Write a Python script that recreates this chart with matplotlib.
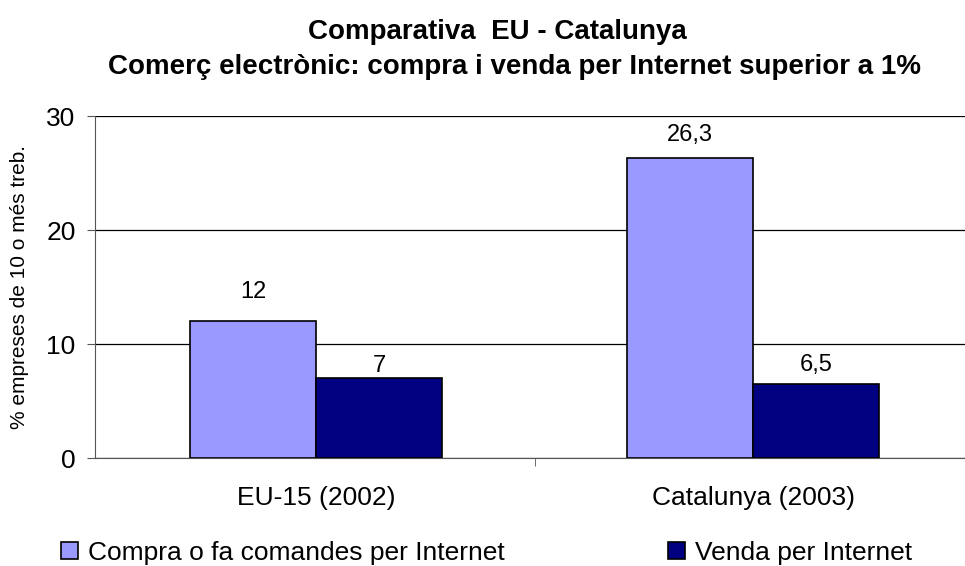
import numpy as np
import matplotlib.pyplot as plt

plt.rcParams['font.family'] = ['Liberation Sans', 'DejaVu Sans']

# dades
categories = ['EU-15 (2002)', 'Catalunya (2003)']
compra = [12, 26.3]
venda = [7, 6.5]
series_names = ['Compra o fa comandes per Internet', 'Venda per Internet']
yticks = [0, 10, 20, 30]

fig = plt.figure(figsize=(9.65, 5.66), dpi=100)
ax = fig.add_axes([95/965, 1 - 458/566, 870/965, 342/566])

x = np.arange(len(categories))
w = 0.288
b1 = ax.bar(x - w/2, compra, w, color='#9999ff', edgecolor='black', linewidth=1.2, zorder=3)
b2 = ax.bar(x + w/2, venda, w, color='#000080', edgecolor='black', linewidth=1.2, zorder=3)

# separacio de cada etiqueta respecte a la barra (punts)
offsets = [13, 9, 1, 6]
for rect, v, off in zip(list(b1) + list(b2), compra + venda, offsets):
    txt = ('%g' % v).replace('.', ',')
    ax.annotate(txt, (rect.get_x() + rect.get_width()/2, v), xytext=(0, off),
                textcoords='offset points', ha='center', va='bottom',
                fontsize=17, zorder=4)

ax.set_ylim(0, 30)
ax.set_yticks(yticks)
ax.set_xlim(-0.506, 1.485)
ax.yaxis.grid(True, color='black', linewidth=0.9, zorder=0)
ax.set_xticks(x)
ax.set_xticklabels(categories, fontsize=19)
ax.set_xticks([0.5], minor=True)
ax.tick_params(axis='x', which='major', length=0, pad=20)
ax.tick_params(axis='x', which='minor', length=6, direction='out', color='#555555')
ax.tick_params(axis='y', labelsize=19, length=6, color='#555555', pad=8)
for s in ['top', 'right']:
    ax.spines[s].set_visible(False)
ax.spines['left'].set_color('#555555')
ax.spines['bottom'].set_color('#555555')
ax.set_ylabel('% empreses de 10 o més treb.', fontsize=15)
ax.yaxis.set_label_coords(-66/870, 0.5)

fig.text(0.515, 1 - 32/566, 'Comparativa  EU - Catalunya', ha='center', va='center',
         fontsize=20, fontweight='bold')
fig.text(0.533, 1 - 67/566, 'Comerç electrònic: compra i venda per Internet superior a 1%',
         ha='center', va='center', fontsize=20, fontweight='bold')

fig.legend([b1, b2], series_names, loc='center', bbox_to_anchor=(0.504, 1 - 553/566),
           ncol=2, frameon=False, fontsize=19, handlelength=0.64, handleheight=0.64,
           handletextpad=0.38, columnspacing=6.2, borderpad=0)

fig.savefig('out.png', dpi=100)
